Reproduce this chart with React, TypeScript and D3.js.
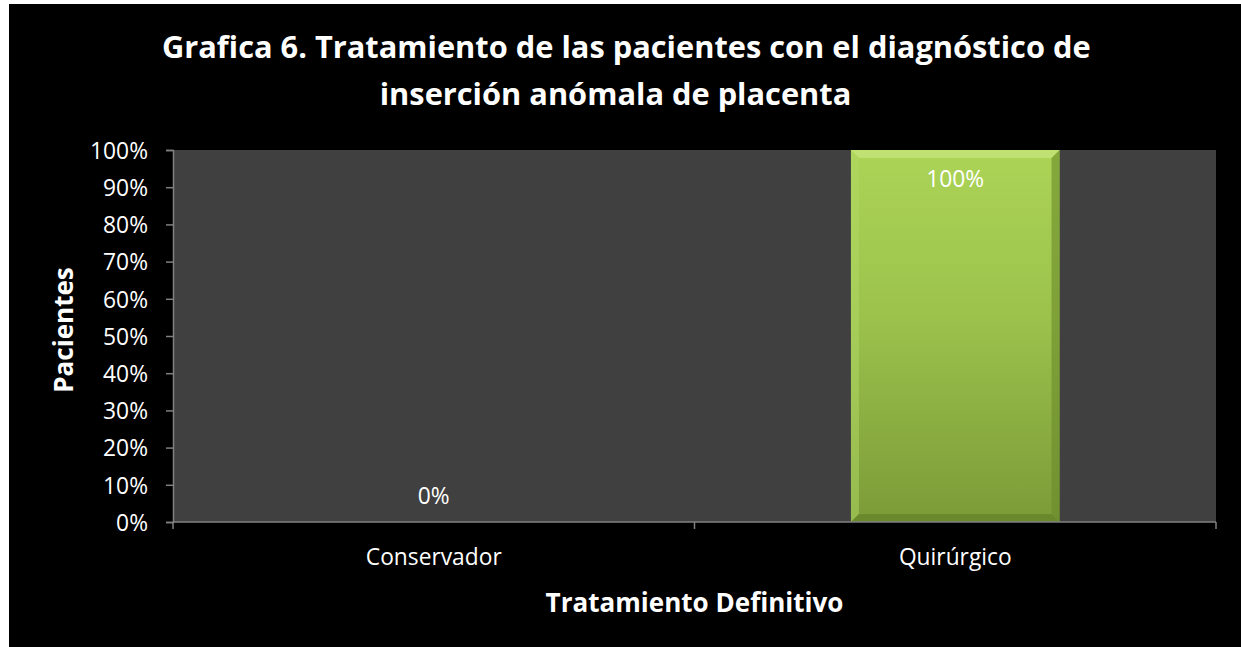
import React, { useEffect, useRef } from 'react';
import * as d3 from 'd3';

const categories = ['Conservador', 'Quirúrgico'];
const values = [0, 1];
const yTicks = [0, 0.1, 0.2, 0.3, 0.4, 0.5, 0.6, 0.7, 0.8, 0.9, 1];
const titleLines = [
  'Grafica 6. Tratamiento de las pacientes con el diagnóstico de',
  'inserción anómala de placenta'
];
const xTitle = 'Tratamiento Definitivo';
const yTitle = 'Pacientes';

const W = 1241;
const H = 647;
const FONT = '"Open Sans", Lato, sans-serif';

// scale font size so the text takes the given width (stand-in for Calibri)
function fitWidth(sel: d3.Selection<SVGTextElement, unknown, null, undefined>, target: number) {
  const node = sel.node();
  if (!node) return 20;
  const base = parseFloat(sel.style('font-size')) || 20;
  const w = node.getComputedTextLength();
  const size = w > 0 ? base * target / w : base;
  sel.style('font-size', `${size}px`);
  return size;
}

export default function App() {
  const svgRef = useRef<SVGSVGElement>(null);

  useEffect(() => {
    if (!svgRef.current) return;
    document.body.style.margin = '0';
    const svg = d3.select(svgRef.current);
    svg.selectAll('*').remove();

    // chart frame
    svg.append('rect').attr('width', W).attr('height', H).attr('fill', '#ffffff');
    svg.append('rect').attr('x', 9).attr('y', 4).attr('width', W - 9).attr('height', H - 4).attr('fill', '#000000');

    const plot = { left: 173, right: 1216, top: 150, bottom: 522 };

    const x = d3.scaleBand<string>()
      .domain(categories)
      .range([plot.left, plot.right])
      .padding(0);
    const step = x.bandwidth();

    const y = d3.scaleLinear().domain([0, 1]).range([plot.bottom, plot.top]);

    // plot area
    svg.append('rect')
      .attr('x', plot.left).attr('y', plot.top)
      .attr('width', plot.right - plot.left).attr('height', plot.bottom - plot.top)
      .attr('fill', '#404040');

    // gradient for bars
    const defs = svg.append('defs');
    const grad = defs.append('linearGradient').attr('id', 'barGrad')
      .attr('x1', 0).attr('y1', 0).attr('x2', 0).attr('y2', 1);
    grad.append('stop').attr('offset', '0%').attr('stop-color', '#acd456');
    grad.append('stop').attr('offset', '45%').attr('stop-color', '#9cc24c');
    grad.append('stop').attr('offset', '100%').attr('stop-color', '#7b9b38');

    // Excel gap width 150%
    const barW = step / 2.5;
    const bars = svg.append('g');
    let labelSize = 20;
    categories.forEach((c, i) => {
      const cx = (x(c) || 0) + step / 2;
      const v = values[i];
      const x0 = cx - barW / 2;
      const y0 = y(v);
      const h = plot.bottom - y0;
      if (h > 0) {
        bars.append('rect')
          .attr('x', x0).attr('y', y0).attr('width', barW).attr('height', h)
          .attr('fill', 'url(#barGrad)');
        const b = 8;
        // bevel edges
        bars.append('polygon')
          .attr('points', `${x0},${y0} ${x0 + barW},${y0} ${x0 + barW - b},${y0 + b} ${x0 + b},${y0 + b}`)
          .attr('fill', '#c4e57a').attr('opacity', 0.8);
        bars.append('polygon')
          .attr('points', `${x0},${y0} ${x0 + b},${y0 + b} ${x0 + b},${y0 + h - b} ${x0},${y0 + h}`)
          .attr('fill', '#b2d966').attr('opacity', 0.5);
        bars.append('polygon')
          .attr('points', `${x0 + barW},${y0} ${x0 + barW - b},${y0 + b} ${x0 + barW - b},${y0 + h - b} ${x0 + barW},${y0 + h}`)
          .attr('fill', '#6a8a2c').attr('opacity', 0.6);
        bars.append('polygon')
          .attr('points', `${x0},${y0 + h} ${x0 + b},${y0 + h - b} ${x0 + barW - b},${y0 + h - b} ${x0 + barW},${y0 + h}`)
          .attr('fill', '#5f7d26').attr('opacity', 0.6);
      }
    });

    // y axis
    const yAxis = d3.axisLeft(y).tickValues(yTicks).tickFormat(d3.format('.0%')).tickSize(7).tickPadding(18);
    const yg = svg.append('g').attr('transform', `translate(${plot.left},0)`).call(yAxis);
    yg.select('.domain').attr('stroke', '#808080').attr('stroke-width', 1.5);
    yg.selectAll('.tick line').attr('stroke', '#808080').attr('stroke-width', 1.5);
    const tickText = yg.selectAll<SVGTextElement, number>('.tick text')
      .attr('fill', '#ffffff')
      .style('font-family', FONT)
      .style('font-size', '20px');
    const topTick = yg.selectAll<SVGTextElement, number>('.tick text').filter(d => d === 1);
    labelSize = fitWidth(topTick as any, 58);
    tickText.style('font-size', `${labelSize}px`).attr('dy', '0.36em');

    // data labels
    categories.forEach((c, i) => {
      const cx = (x(c) || 0) + step / 2;
      const v = values[i];
      svg.append('text')
        .attr('x', cx)
        .attr('y', v > 0 ? y(v) + 37 : plot.bottom - 18)
        .attr('text-anchor', 'middle')
        .attr('fill', '#ffffff')
        .style('font-family', FONT)
        .style('font-size', `${labelSize}px`)
        .text(d3.format('.0%')(v));
    });

    // x axis
    const xAxis = d3.axisBottom(x).tickSize(0).tickPadding(0);
    const xg = svg.append('g').attr('transform', `translate(0,${plot.bottom})`).call(xAxis);
    xg.select('.domain').attr('stroke', '#808080').attr('stroke-width', 1.5)
      .attr('d', `M${plot.left},0H${plot.right}`);
    const catText = xg.selectAll<SVGTextElement, string>('.tick text')
      .attr('fill', '#ffffff')
      .attr('y', 43)
      .attr('dy', 0)
      .style('font-family', FONT)
      .style('font-size', '20px');
    const first = catText.filter(d => d === categories[0]);
    const catSize = fitWidth(first as any, 136);
    catText.style('font-size', `${catSize}px`);
    // category boundary tick marks
    d3.range(categories.length + 1).forEach(i => {
      xg.append('line')
        .attr('x1', plot.left + step * i).attr('x2', plot.left + step * i)
        .attr('y1', 0).attr('y2', 7)
        .attr('stroke', '#808080').attr('stroke-width', 1.5);
    });

    // titles
    const titlePos = [{ x: 162, y: 58, w: 929 }, { x: 393, y: 105, w: 445 }];
    const t1 = svg.append('text')
      .attr('x', titlePos[0].x)
      .attr('y', titlePos[0].y)
      .attr('fill', '#ffffff')
      .style('font-family', FONT)
      .style('font-weight', 'bold')
      .style('font-size', '30px')
      .text(titleLines[0]);
    const titleSize = fitWidth(t1, titlePos[0].w);
    svg.append('text')
      .attr('x', (titlePos[1].x + titlePos[1].x + titlePos[1].w) / 2)
      .attr('y', titlePos[1].y)
      .attr('text-anchor', 'middle')
      .attr('fill', '#ffffff')
      .style('font-family', FONT)
      .style('font-weight', 'bold')
      .style('font-size', `${titleSize}px`)
      .text(titleLines[1]);

    const xt = svg.append('text')
      .attr('x', (plot.left + plot.right) / 2)
      .attr('y', 612)
      .attr('text-anchor', 'middle')
      .attr('fill', '#ffffff')
      .style('font-family', FONT)
      .style('font-weight', 'bold')
      .style('font-size', '22px')
      .text(xTitle);
    const axisTitleSize = fitWidth(xt, 298);

    svg.append('text')
      .attr('transform', `translate(73,330) rotate(-90)`)
      .attr('text-anchor', 'middle')
      .attr('fill', '#ffffff')
      .style('font-family', FONT)
      .style('font-weight', 'bold')
      .style('font-size', `${axisTitleSize}px`)
      .text(yTitle);
  }, []);

  return <svg ref={svgRef} width={W} height={H} style={{ display: 'block' }} />;
}
